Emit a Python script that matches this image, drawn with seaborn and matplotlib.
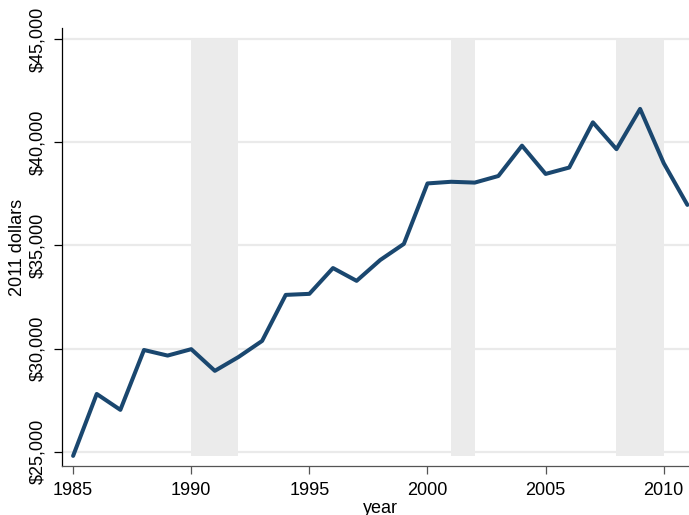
import matplotlib
matplotlib.use("Agg")
import matplotlib.pyplot as plt
import pandas as pd
import seaborn as sns
from matplotlib.ticker import FuncFormatter

# Renda mediana (dólares de 2011) por ano
anos = list(range(1985, 2012))
renda = [24800, 27800, 27030, 29930, 29660, 29970, 28920, 29590, 30370,
         32600, 32650, 33900, 33280, 34290, 35070, 38000, 38080, 38040,
         38360, 39830, 38460, 38770, 40960, 39660, 41610, 38980, 36960]

# Recessões (início, fim)
recessao_inicio = [1990, 2001, 2008]
recessao_fim = [1992, 2002, 2010]

y_ticks = [25000, 30000, 35000, 40000, 45000]
x_ticks = [1985, 1990, 1995, 2000, 2005, 2010]

df = pd.DataFrame({'year': anos, 'renda': renda})

sns.set_style("white")
plt.rcParams['font.family'] = ['Liberation Sans', 'DejaVu Sans']
plt.rcParams['text.color'] = 'black'
plt.rcParams['axes.labelcolor'] = 'black'
plt.rcParams['xtick.color'] = 'black'
plt.rcParams['ytick.color'] = 'black'

fig = plt.figure(figsize=(6.89, 5.15), dpi=100)
ax = fig.add_axes([62 / 689, 49 / 515, 636 / 689, 438 / 515])

# Faixas cinzas das recessões
for ini, fim in zip(recessao_inicio, recessao_fim):
    ax.fill_between([ini, fim], min(renda), max(y_ticks), color='#ebebeb',
                    linewidth=0, zorder=1)

sns.lineplot(data=df, x='year', y='renda', ax=ax, color='#1a476f',
             linewidth=2.9, zorder=3)

ax.set_xlim(1984.53, 2011.45)
ax.set_ylim(24310, 45530)
ax.set_xticks(x_ticks)
ax.set_yticks(y_ticks)
ax.yaxis.set_major_formatter(FuncFormatter(lambda v, p: f"${v:,.0f}"))

ax.set_axisbelow(True)
ax.grid(axis='y', color='#eaeaea', linewidth=1.6)
ax.grid(axis='x', visible=False)

for lado in ['top', 'right']:
    ax.spines[lado].set_visible(False)
ax.spines['left'].set_color('black')
ax.spines['bottom'].set_color('#555555')
ax.spines['left'].set_linewidth(0.9)
ax.spines['bottom'].set_linewidth(0.9)

ax.tick_params(axis='y', length=6, width=0.9, color='black', pad=5,
               labelsize=13, labelrotation=90, left=True, labelcolor='black')
ax.tick_params(axis='x', length=5.5, width=0.9, color='#555555', pad=6,
               labelsize=13, bottom=True, labelcolor='black')
for lbl in ax.get_yticklabels():
    lbl.set_va('center')

ax.set_xlabel('year', fontsize=13, labelpad=1, color='black')
ax.set_ylabel('2011 dollars', fontsize=13, labelpad=3, color='black')

fig.savefig('out.png', dpi=100)
